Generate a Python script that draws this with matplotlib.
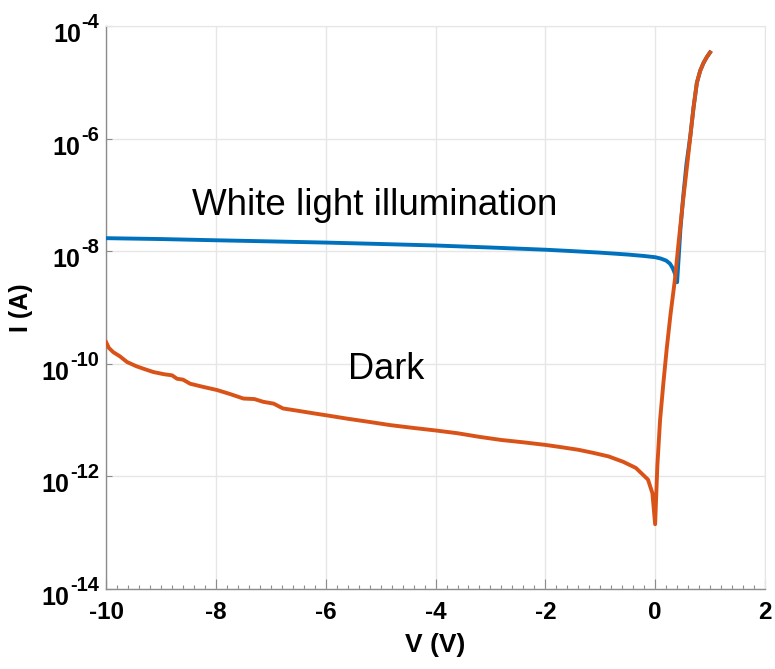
import matplotlib
matplotlib.use("Agg")
import matplotlib.pyplot as plt
from matplotlib.ticker import FixedLocator, MultipleLocator, NullFormatter

plt.rcParams["font.family"] = ["Liberation Sans", "DejaVu Sans"]

# I-V sweep under white light
v_light = [-10.0, -9.0, -8.0, -7.0, -6.0, -5.0, -4.0, -3.0, -2.0, -1.5, -1.0,
           -0.5, -0.2, 0.0, 0.1, 0.2, 0.27, 0.32, 0.36, 0.39, 0.40,
           0.43, 0.46, 0.51, 0.57, 0.64, 0.70, 0.76, 0.82, 0.88, 0.94, 1.0]
i_light = [1.70e-8, 1.64e-8, 1.56e-8, 1.49e-8, 1.42e-8, 1.34e-8, 1.26e-8, 1.16e-8,
           1.06e-8, 1.00e-8, 9.4e-9, 8.7e-9, 8.2e-9, 7.8e-9, 7.4e-9, 6.8e-9,
           6.0e-9, 5.0e-9, 4.0e-9, 3.2e-9, 2.8e-9,
           8.0e-9, 2.4e-8, 9.0e-8, 3.5e-7, 1.1e-6, 3.6e-6, 9.8e-6, 1.6e-5,
           2.2e-5, 2.8e-5, 3.4e-5]

# I-V sweep in the dark
v_dark = [-10.0, -9.95, -9.87, -9.75, -9.62, -9.45, -9.30, -9.14, -8.95, -8.80,
          -8.71, -8.60, -8.47, -8.25, -7.98, -7.75, -7.50, -7.30, -7.14, -6.95,
          -6.78, -6.50, -6.20, -5.97, -5.60, -5.20, -4.83, -4.40, -4.00, -3.60,
          -3.20, -2.80, -2.40, -2.00, -1.73, -1.40, -1.13, -0.85, -0.58, -0.35,
          -0.13, -0.05, 0.0, 0.04, 0.09, 0.15, 0.21, 0.28, 0.36, 0.43, 0.51,
          0.58, 0.64, 0.70, 0.76, 0.82, 0.88, 0.94, 1.0]
i_dark = [2.4e-10, 1.9e-10, 1.6e-10, 1.35e-10, 1.07e-10, 9.0e-11, 8.0e-11, 7.1e-11,
          6.5e-11, 6.2e-11, 5.4e-11, 5.2e-11, 4.4e-11, 3.9e-11, 3.4e-11, 2.9e-11,
          2.4e-11, 2.35e-11, 2.1e-11, 1.95e-11, 1.6e-11, 1.45e-11, 1.3e-11,
          1.2e-11, 1.05e-11, 9.2e-12, 8.1e-12, 7.2e-12, 6.5e-12, 5.8e-12,
          5.0e-12, 4.4e-12, 4.0e-12, 3.6e-12, 3.3e-12, 2.95e-12, 2.6e-12,
          2.25e-12, 1.8e-12, 1.4e-12, 8.7e-13, 5.0e-13, 1.4e-13, 1.5e-12,
          1.0e-11, 4.5e-11, 1.8e-10, 7.5e-10, 3.1e-9, 1.5e-8, 8.1e-8,
          3.2e-7, 1.07e-6, 3.6e-6, 9.8e-6, 1.6e-5, 2.2e-5, 2.8e-5, 3.4e-5]

x_ticks = [-10, -8, -6, -4, -2, 0, 2]
y_exponents = [-14, -12, -10, -8, -6, -4]

fig = plt.figure(figsize=(7.75, 6.69), dpi=100)
ax = fig.add_axes([0.137, 0.120, 0.850, 0.841])

ax.plot(v_light, i_light, color="#0072BD", lw=2.8, solid_joinstyle="round", zorder=3)
ax.plot(v_dark, i_dark, color="#D95319", lw=2.8, solid_joinstyle="round", zorder=4)

ax.set_yscale("log")
ax.set_xlim(-10, 2)
ax.set_ylim(1e-14, 1e-4)

ax.xaxis.set_major_locator(FixedLocator(x_ticks))
ax.xaxis.set_minor_locator(MultipleLocator(0.2))
ax.set_xticklabels([str(t) for t in x_ticks])
ax.yaxis.set_major_locator(FixedLocator([10.0 ** e for e in y_exponents]))
ax.yaxis.set_minor_locator(FixedLocator([]))
ax.yaxis.set_major_formatter(NullFormatter())

ax.grid(True, which="major", color="#e6e6e6", lw=1.0, zorder=0)
ax.set_axisbelow(True)

for side in ("top", "right"):
    ax.spines[side].set_color("#e6e6e6")
for side in ("left", "bottom"):
    ax.spines[side].set_color("#8c8c8c")
    ax.spines[side].set_linewidth(1.0)

ax.tick_params(axis="both", which="both", direction="in", color="#8c8c8c",
               top=False, right=False)
ax.tick_params(axis="x", which="major", length=7, width=0.8, pad=9,
               labelsize=17.5)
ax.tick_params(axis="x", which="minor", length=3, width=0.8)
ax.tick_params(axis="y", which="major", length=4, width=0.8)
for lab in ax.get_xticklabels():
    lab.set_fontweight("bold")

# y tick labels: "10" with a large raised exponent, right-aligned to the spine
exp_texts = []
for e in y_exponents:
    t = ax.annotate(f"-{abs(e)}", xy=(0, 10.0 ** e),
                    xycoords=("axes fraction", "data"),
                    xytext=(-5, -1.4), textcoords="offset points",
                    ha="right", va="baseline", fontsize=14.5,
                    fontweight="bold", annotation_clip=False)
    exp_texts.append(t)
fig.canvas.draw()
for e, t in zip(y_exponents, exp_texts):
    w_pt = t.get_window_extent().width * 72 / fig.dpi
    ax.annotate("10", xy=(0, 10.0 ** e), xycoords=("axes fraction", "data"),
                xytext=(-5 - w_pt - 0.5, -11.5), textcoords="offset points",
                ha="right", va="baseline", fontsize=18, fontweight="bold",
                annotation_clip=False)

ax.set_xlabel("V (V)", fontsize=19, fontweight="bold", labelpad=6)
ax.set_ylabel("I (A)", fontsize=18, fontweight="bold")
ax.yaxis.set_label_coords(-0.111, 0.5)

ax.text(-5.1, 6.6e-8, "White light illumination", fontsize=26.5,
        ha="center", va="center")
ax.text(-4.9, 8.0e-11, "Dark", fontsize=26, ha="center", va="center")

fig.savefig("out.png", dpi=100)
